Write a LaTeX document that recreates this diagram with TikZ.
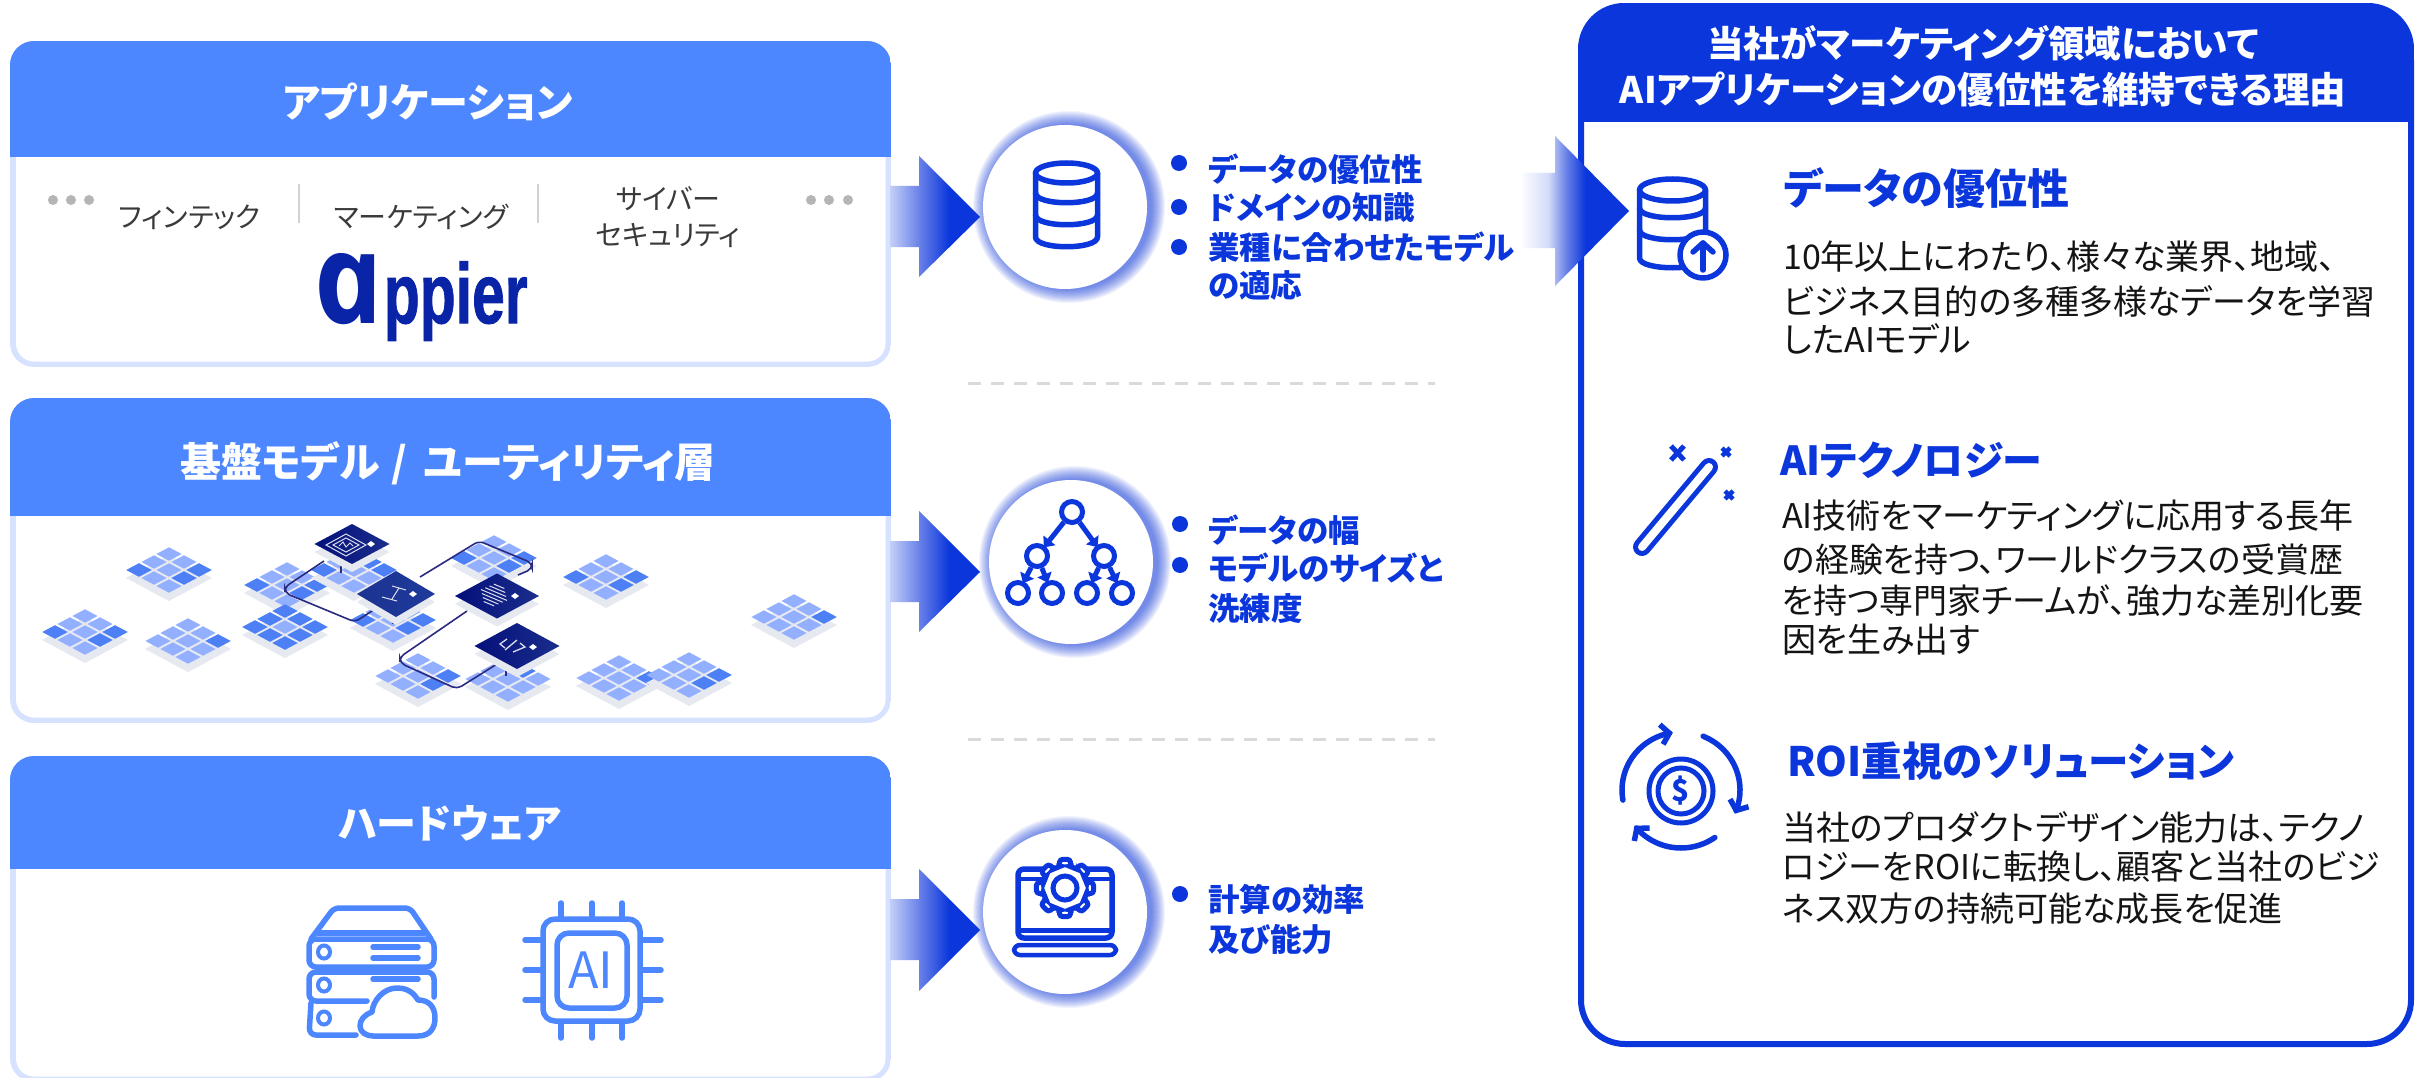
\documentclass[tikz,border=0pt]{standalone}
\usepackage{fontspec}
\usepackage{graphicx}
\usetikzlibrary{arrows.meta,calc}
\setmainfont{Noto Sans CJK JP}[RawFeature=+palt]
\newfontfamily\logofont{Liberation Sans}[BoldFeatures={FakeBold=1.2}]
\newfontfamily\logoafont{Open Sans}[BoldItalicFeatures={FakeSlant=-0.21}]
\newcommand{\fsz}[2]{\fontsize{#1pt}{#2pt}\selectfont}
\definecolor{hdr}{HTML}{4D87FF}
\definecolor{edgeb}{HTML}{D6E2FF}
\definecolor{brand}{HTML}{0A36DC}
\definecolor{logoc}{HTML}{0A24A8}
\definecolor{graydot}{HTML}{B5B5B5}
\definecolor{sepc}{HTML}{D2D2D2}
\definecolor{dashc}{HTML}{DADADA}
\definecolor{tlight}{HTML}{92B0FF}
\definecolor{tdark}{HTML}{4D80F5}
\definecolor{tshadow}{HTML}{E7E9F1}
\definecolor{wirec}{HTML}{2A2A80}
\definecolor{txtc}{HTML}{3A3A3A}
\definecolor{bodyc}{HTML}{141414}
\definecolor{arrowl}{HTML}{C4CFF7}
\definecolor{arrowm}{HTML}{6A83E8}
\definecolor{arrowf}{HTML}{D3DBF8}
\definecolor{chipa}{HTML}{04107A}
\definecolor{chipb}{HTML}{1A2D8C}
\definecolor{chipc}{HTML}{1C3391}
\definecolor{chipd}{HTML}{1E3A9C}
\pgfdeclarehorizontalshading{arrowsh}{100bp}{color(0bp)=(arrowl); color(25bp)=(arrowl); color(41bp)=(arrowm); color(58bp)=(brand); color(100bp)=(brand)}
\pgfdeclarehorizontalshading{bigsh}{100bp}{color(0bp)=(white); color(25bp)=(white); color(38bp)=(arrowf); color(46bp)=(arrowm); color(55bp)=(brand); color(100bp)=(brand)}
\tikzset{
  x=1pt,y=-1pt,
  hdrtitle/.style={text=white,font=\fsz{40}{48}\bfseries,inner sep=0pt},
  sector/.style={text=txtc,font=\fsz{28}{36},inner sep=0pt,align=center},
  blueitem/.style={text=brand,font=\fsz{31.5}{38}\bfseries,inner sep=0pt,anchor=west,align=left},
  bluedot/.style={circle,fill=brand,inner sep=0pt,minimum size=16pt},
  greydot/.style={circle,fill=graydot,inner sep=0pt,minimum size=10pt},
  rhead/.style={text=brand,font=\fsz{42}{48}\bfseries,inner sep=0pt,anchor=west},
  rbody/.style={text=bodyc,font=\fsz{34}{40},inner sep=0pt,anchor=west,align=left},
  icon/.style={draw=brand,line width=5.5pt,line cap=round,line join=round},
  hwicon/.style={draw=hdr,line width=5.5pt,line cap=round,line join=round},
  wire/.style={draw=wirec,line width=1.6pt,rounded corners=5pt},
  chipline/.style={draw=white,line width=1pt,opacity=.85},
  treenode/.style={circle,draw=brand,line width=5pt,fill=white,inner sep=0pt,minimum size=21pt},
  treeedge/.style={draw=brand,fill=brand,line width=5pt,-{Triangle[length=9pt,width=15pt]},shorten >=-2pt},
  sepline/.style={draw=dashc,line width=3pt,dash pattern=on 13pt off 10pt},
}
\newcommand{\stackbox}[3]{%
  \begin{scope}
    \clip[rounded corners=24pt] (10,#1) rectangle (891,#3);
    \fill[edgeb] (10,#1) rectangle (891,#3);
    \fill[white,rounded corners=18pt] (16,{#2-30}) rectangle (885.5,{#3-5.5});
    \fill[hdr] (10,#1) rectangle (891,#2);
  \end{scope}}
\newcommand{\blockarrow}[5]{%
  \shade[shading=arrowsh] (890,#1) -- (919,#1) -- (919,#3) -- (980,#5) -- (919,#4) -- (919,#2) -- (890,#2) -- cycle;}
\newcommand{\halo}[3]{%
  \foreach \r in {96,95,...,83}{\fill[brand,opacity=.055] ({#1+4},#2) circle [radius=\r];}
  \fill[white] (#1,#2) circle [radius=#3];}
\newcommand{\tileat}[3]{%
  \pgfmathsetmacro{\tx}{(#1-#2)*15}\pgfmathsetmacro{\ty}{(#1+#2)*8}%
  \fill[#3] ({\tx+12.6},\ty) -- (\tx,{\ty+6.7}) -- ({\tx-12.6},\ty) -- (\tx,{\ty-6.7}) -- cycle;}
\newcommand{\tilecluster}[3]{%
  \begin{scope}[shift={(#1,#2)}]
    \fill[tshadow] (-43,8) -- (0,-15) -- (43,8) -- (0,31) -- cycle;
    \foreach \i in {-1,0,1}{\foreach \j in {-1,0,1}{\tileat{\i}{\j}{tlight}}}
    \foreach \i/\j in {#3}{\tileat{\i}{\j}{tdark}}
  \end{scope}}
\newcommand{\chipcard}[6]{%
  \fill[tshadow] ({#1-#3},{#2+8}) -- (#1,{#2-#4+8}) -- ({#1+#3},{#2+8}) -- (#1,{#2+#4+8}) -- cycle;
  \shade[left color=#5,right color=#6] ({#1-#3},#2) -- (#1,{#2-#4}) -- ({#1+#3},#2) -- (#1,{#2+#4}) -- cycle;}
\newcommand{\sparkle}[2]{\fill[white] ({#1-4},#2) -- (#1,{#2-3}) -- ({#1+4},#2) -- (#1,{#2+3}) -- cycle;}
\begin{document}
\begin{tikzpicture}
\useasboundingbox (0,0) rectangle (2425,1078);
\fill[white] (0,0) rectangle (2425,1078);

% left boxes
\stackbox{41}{157}{367}
\stackbox{398}{516}{723}
\stackbox{756}{869}{1082}
\node[hdrtitle] (t1) at (428,102) {アプリケーション};
\node[hdrtitle,font=\fsz{41}{48}\bfseries] (t2) at (448,463) {基盤モデル\hspace{12pt}/\hspace{16pt}ユーティリティ層};
\node[hdrtitle] (t3) at (450,823) {ハードウェア};

% application row
\foreach \px/\nm in {53/a,71/b,89/c,811/d,829/e,848/f}{\node[greydot] (dot\nm) at (\px,200) {};}
\draw[sepc,line width=2pt] (299,184) -- (299,223);
\draw[sepc,line width=2pt] (538,184) -- (538,223);
\node[sector] (s1) at (190,217) {フィンテック};
\node[sector] (s2) at (421,217) {マーケティング};
\node[sector] (s3) at (668,217) {サイバー\\セキュリティ};
\node[inner sep=0pt,text=logoc,font=\logofont\bfseries\fsz{60}{60}] (logo) at (424,297)
  {{\logoafont\bfseries\itshape\scalebox{1.95}[2.1]{a}}\hspace{-6pt}\scalebox{.98}[1.42]{ppier}};

% tile clusters
\tilecluster{169}{570}{1/-1,-1/1,1/0}
\tilecluster{85}{632}{1/-1,-1/1,1/0}
\tilecluster{188}{641}{1/-1}
\tilecluster{287}{585}{1/-1,-1/1,1/0}
\tilecluster{285}{627}{1/-1,-1/1,1/0,0/1,-1/0,0/-1,-1/-1,1/1}
\tilecluster{354}{570}{1/-1,-1/1,0/-1}
\tilecluster{393}{620}{1/-1,-1/1,1/0}
\tilecluster{494}{558}{1/-1,-1/1,1/0}
\tilecluster{606}{577}{1/-1,-1/1,1/0}
\tilecluster{794}{617}{1/-1}
\tilecluster{418}{676}{1/-1,1/0}
\tilecluster{508}{679}{-1/-1,0/-1}
\tilecluster{619}{678}{1/-1}
\tilecluster{689}{675}{1/-1,1/0}
% wires
\draw[wire] (324,561) -- (285,587) -- (285,593) -- (355,622) -- (375,609);
\draw[wire] (420,577) -- (479,541) -- (532,563) -- (532,569) -- (518,575);
\draw[wire] (467,611) -- (400,657) -- (400,663) -- (457,689) -- (497,664);
\draw[wirec,line width=1.6pt] (341,563) -- (341,573);
\draw[wirec,line width=1.6pt] (393,612) -- (393,624);
\draw[wirec,line width=1.6pt] (506,665) -- (506,676);
% chips
\chipcard{352}{544}{37.5}{20}{chipa}{chipb}
\chipcard{396}{594}{39}{23}{chipc}{chipd}
\chipcard{497}{596}{42}{22.5}{chipa}{chipb}
\chipcard{517}{646}{42.5}{23}{chipa}{chipb}
% chip glyphs
\draw[chipline] (346,534) -- (366,545) -- (346,556) -- (326,545) -- cycle;
\draw[chipline] (346,538) -- (359,545) -- (346,552) -- (333,545) -- cycle;
\draw[chipline] (339,546) -- (343,542) -- (346,547) -- (350,543) -- (353,546);
\sparkle{371}{544}
\draw[chipline] (392,586) -- (406,590);
\draw[chipline] (399,588) -- (392,599);
\draw[chipline] (382,597) -- (397,601);
\sparkle{413}{594}
\foreach \k in {-3,...,3}{
  \pgfmathsetmacro{\L}{13-2.6*abs(\k)}
  \draw[chipline] ({494-\k*1.7-\L},{595+\k*2.9-\L*.42}) -- ({494-\k*1.7+\L},{595+\k*2.9+\L*.42});}
\sparkle{515}{596}
\draw[chipline,line width=1.3pt] (507,639) -- (500,644) -- (505,648);
\draw[chipline,line width=1.3pt] (517,640) -- (505,650);
\draw[chipline,line width=1.3pt] (513,652) -- (525,647) -- (520,643);
\sparkle{533}{647}

% hardware icons: server
\draw[hwicon,rounded corners=5pt] (311,939) -- (334,908) -- (410,908) -- (431,939);
\draw[hwicon] (318,933) -- (424,933);
\draw[hwicon,rounded corners=7pt] (309,939) rectangle (434,967);
\draw[hwicon,rounded corners=7pt] (367,1001) -- (309,1001) -- (309,972) -- (434,972) -- (434,997);
\draw[hwicon,rounded corners=7pt] (311,1003) -- (309,1035) -- (356,1035);
\draw[hdr,line width=4pt] (324,952) ellipse [x radius=6,y radius=6.5];
\draw[hdr,line width=4pt] (324,985) ellipse [x radius=6,y radius=6.5];
\draw[hdr,line width=4pt] (324,1018) ellipse [x radius=6,y radius=6.5];
\draw[hwicon] (373,947) -- (418,947);
\draw[hwicon] (373,958) -- (418,958);
\draw[hwicon] (373,979) -- (418,979);
\draw[hwicon,fill=white] (373,1036) -- (418,1036) .. controls (430,1036) and (435,1028) .. (435,1018) .. controls (435,1006) and (428,1000) .. (418,1000) .. controls (412,990) and (404,988) .. (397,988) .. controls (384,988) and (373,1000) .. (372,1012) .. controls (364,1015) and (360,1020) .. (360,1026) .. controls (360,1032) and (366,1036) .. (373,1036) -- cycle;
% hardware icons: AI chip
\draw[hwicon,rounded corners=12pt] (543,919) rectangle (640,1021);
\draw[hwicon,rounded corners=12pt] (557,933) rectangle (627,1008);
\foreach \px in {561,592,622}{\draw[hwicon] (\px,903) -- (\px,918); \draw[hwicon] (\px,1022) -- (\px,1038);}
\foreach \py in {940,970,1000}{\draw[hwicon] (525,\py) -- (542,\py); \draw[hwicon] (641,\py) -- (661,\py);}
\node[inner sep=0pt,text=hdr,font=\fsz{50}{50}] (aichip) at (591,970) {AI};

% halos
\halo{1065}{207}{82}
\halo{1071}{562}{82}
\halo{1065}{912}{82}

% block arrows
\blockarrow{186}{247}{156}{277}{217}
\blockarrow{541}{602}{511}{632}{572}
\blockarrow{899}{960}{869}{991}{930}

% separators
\draw[sepline] (968,383) -- (1435,383);
\draw[sepline] (968,739) -- (1435,739);

% icon 1: database
\begin{scope}[shift={(1066.5,173)}]
  \draw[icon] (0,0) ellipse [x radius=31,y radius=10];
  \draw[icon] (-31,0) -- (-31,64) .. controls (-31,77) and (31,77) .. (31,64) -- (31,0);
  \draw[icon] (-31,20) .. controls (-31,33) and (31,33) .. (31,20);
  \draw[icon] (-31,42) .. controls (-31,55) and (31,55) .. (31,42);
\end{scope}
% icon 2: tree
\node[treenode] (root) at (1072,512) {};
\node[treenode] (m1) at (1037,556) {};
\node[treenode] (m2) at (1104,556) {};
\node[treenode] (b1) at (1018,593) {};
\node[treenode] (b2) at (1052,593) {};
\node[treenode] (b3) at (1087,593) {};
\node[treenode] (b4) at (1122,593) {};
\draw[treeedge] (root) -- (m1);
\draw[treeedge] (root) -- (m2);
\draw[treeedge] (m1) -- (b1);
\draw[treeedge] (m1) -- (b2);
\draw[treeedge] (m2) -- (b3);
\draw[treeedge] (m2) -- (b4);
% icon 3: laptop + gear
\draw[icon,rounded corners=6pt] (1018,869) rectangle (1112,938);
\draw[brand,line width=4pt] (1020,879) -- (1110,879);
\draw[brand,line width=5pt] (1020,930) -- (1110,930);
\draw[brand,line width=4.5pt,rounded corners=6pt] (1014,945) rectangle (1116,955);
\begin{scope}[shift={(1065,888)}]
  \draw[brand,line width=5pt,fill=white,rounded corners=2.5pt] (-16:22)
    \foreach \a in {0,45,...,315}{ -- ({\a-16}:22) -- ({\a-10}:29) -- ({\a+10}:29) -- ({\a+16}:22)} -- cycle;
  \draw[brand,line width=5pt] (0,0) circle [radius=12];
\end{scope}

% bullet lists
\node[bluedot] (b11) at (1179,163) {};
\node[bluedot] (b12) at (1179,207) {};
\node[bluedot] (b13) at (1179,247) {};
\node[blueitem] (i11) at (1208,169) {データの優位性};
\node[blueitem] (i12) at (1208,208) {ドメインの知識};
\node[blueitem] (i13) at (1208,266) {業種に合わせたモデル\\の適応};
\node[bluedot] (b21) at (1180,524) {};
\node[bluedot] (b22) at (1180,565) {};
\node[blueitem] (i21) at (1208,530) {データの幅};
\node[blueitem] (i22) at (1208,588) {モデルのサイズと\\[2pt]洗練度};
\node[bluedot] (b31) at (1180,894) {};
\node[blueitem] (i31) at (1208,919) {計算の効率\\[2pt]及び能力};

% right panel
\begin{scope}
  \clip[rounded corners=46pt] (1578,3) rectangle (2414,1047);
  \fill[brand] (1578,3) rectangle (2414,122);
\end{scope}
\draw[brand,line width=6pt,rounded corners=44pt] (1581,60) -- (1581,1044) -- (2411,1044) -- (2411,60);
\node[inner sep=0pt,text=white,align=center,font=\fsz{36.5}{46}\bfseries] (rt) at (1983,66) {当社がマーケティング領域において\\AIアプリケーションの優位性を維持できる理由};

% big arrow
\shade[shading=bigsh] (1520,173) -- (1555,173) -- (1555,136) -- (1629,211) -- (1555,286) -- (1555,248) -- (1520,248) -- cycle;

% right icons
\begin{scope}[shift={(1672.5,190)}]
  \draw[icon] (0,0) ellipse [x radius=33,y radius=11];
  \draw[icon] (-33,0) -- (-33,68) .. controls (-33,81) and (33,81) .. (33,68) -- (33,0);
  \draw[icon] (-33,18) .. controls (-33,31) and (33,31) .. (33,18);
  \draw[icon] (-33,40) .. controls (-33,53) and (33,53) .. (33,40);
\end{scope}
\draw[icon,fill=white] (1703,255) circle [radius=23];
\draw[icon] (1703,270) -- (1703,243);
\draw[icon] (1693,252) -- (1703,243) -- (1713,252);

\draw[brand,line width=18pt,line cap=round] (1642,547) -- (1709,467);
\draw[white,line width=8pt,line cap=round] (1642,547) -- (1709,467);
\draw[brand,line width=5pt] (1671,446) -- (1684,460);
\draw[brand,line width=5pt] (1684,446) -- (1671,460);
\draw[brand,line width=4.5pt] (1722,448) -- (1730,456);
\draw[brand,line width=4.5pt] (1730,448) -- (1722,456);
\draw[brand,line width=4.5pt] (1725,491) -- (1733,499);
\draw[brand,line width=4.5pt] (1733,491) -- (1725,499);

\begin{scope}[shift={(1681,790)}]
  \draw[icon,>={Straight Barb[length=8pt,width=20pt]},->] plot[smooth,domain=170:262,samples=16] ({59*cos(\x)},{58*sin(\x)});
  \draw[icon,>={Straight Barb[length=8pt,width=20pt]},->] plot[smooth,domain=292:384,samples=16] ({59*cos(\x)},{58*sin(\x)});
  \draw[icon,>={Straight Barb[length=8pt,width=20pt]},->] plot[smooth,domain=55:142,samples=16] ({59*cos(\x)},{58*sin(\x)});
\end{scope}
\draw[brand,line width=5pt] (1681,791) circle [radius=32];
\draw[brand,line width=5pt] (1681,791) circle [radius=23];
\node[inner sep=0pt,text=brand,font=\fsz{30}{30}\bfseries] (dollar) at (1681,791) {\$};

% right text
\node[rhead] (h1) at (1783,188) {データの優位性};
\node[rbody] (p1) at (1783,298) {10年以上にわたり、様々な業界、地域、\\[5pt]ビジネス目的の多種多様なデータを学習\\[-2pt]したAIモデル};
\node[rhead,font=\fsz{40}{46}\bfseries] (h2) at (1780,460) {AIテクノロジー};
\node[rbody] (p2) at (1782,578) {AI技術をマーケティングに応用する長年\\[4pt]の経験を持つ、ワールドクラスの受賞歴\\[1pt]を持つ専門家チームが、強力な差別化要\\[-1pt]因を生み出す};
\node[rhead,font=\fsz{40.5}{46}\bfseries] (h3) at (1787,761) {ROI重視のソリューション};
\node[rbody] (p3) at (1782,868) {当社のプロダクトデザイン能力は、テクノ\\[-1pt]ロジーをROIに転換し、顧客と当社のビジ\\[2pt]ネス双方の持続可能な成長を促進};
\end{tikzpicture}
\end{document}
